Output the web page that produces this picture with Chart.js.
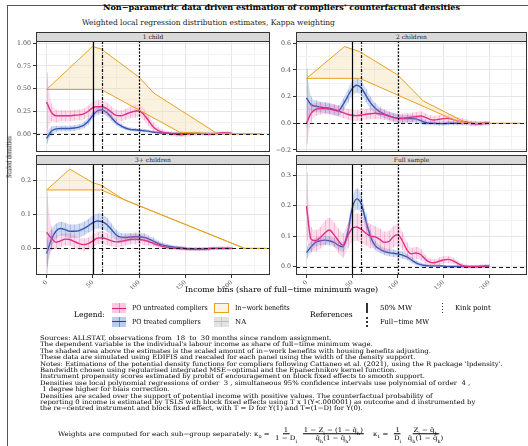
<!DOCTYPE html>
<html><head><meta charset="utf-8">
<script src="https://cdn.jsdelivr.net/npm/chart.js@4/dist/chart.umd.min.js"></script>
<style>
html,body{margin:0;padding:0;width:528px;height:446px;overflow:hidden;background:#fff;font-family:"DejaVu Serif","Liberation Serif",serif;color:#000}
.abs{position:absolute;white-space:nowrap;line-height:1;transform-origin:0 50%}
.strip{position:absolute;background:#D9D9D9;border:1px solid #333;box-sizing:border-box;font-size:6px;color:#1A1A1A;text-align:center;line-height:8px}
canvas{position:absolute}
.frac{display:inline-flex;flex-direction:column;align-items:center;margin:0 2px;vertical-align:middle}
.frac>span{padding:0 1px;line-height:1.15}
.frac>span:first-child{border-bottom:0.7px solid #000}
sub{font-size:70%;line-height:0}
.key{position:absolute;box-sizing:border-box}
</style></head><body>
<div style="position:absolute;left:7px;top:5px;width:530px;height:450px;border-left:1px solid #555;border-top:1px solid #555"></div>
<script>
// ---------------- DATA ----------------
const panelTitles = ["1 child", "2 children", "3+ children", "Full sample"];
const incomeBins = [0,5,10,15,20,25,30,35,40,45,50,55,60,65,70,75,80,85,90,95,100,105,110,115,120,125,130,135,140,145,150,155,160,165,170,175,180,185,190,195,200];
const xTickLabels = [0, 50, 100, 150, 200];
const referenceLines = { fiftyPctMW: 50, kinkPoint: 59.5, fullTimeMW: 100 };

// 1 child
const oneChildUntreated   = [0.35,0.24,0.20,0.20,0.20,0.20,0.205,0.21,0.22,0.25,0.29,0.30,0.30,0.28,0.24,0.205,0.20,0.215,0.235,0.25,0.255,0.215,0.15,0.08,0.04,0.02,0.01,0.0,-0.005,-0.01,-0.005,0.0,0.005,0.005,0.0,-0.005,0.0,0.005,0.01,0.01,0.005];
const oneChildUntreatedCI = [0.33,0.1,0.07,0.06,0.06,0.06,0.06,0.06,0.06,0.065,0.07,0.07,0.07,0.065,0.06,0.06,0.06,0.06,0.065,0.07,0.07,0.065,0.06,0.05,0.04,0.03,0.025,0.025,0.025,0.025,0.025,0.025,0.025,0.02,0.02,0.02,0.02,0.02,0.02,0.02,0.02];
const oneChildTreated     = [-0.05,0.03,0.055,0.06,0.06,0.06,0.065,0.075,0.095,0.14,0.205,0.255,0.265,0.235,0.18,0.125,0.09,0.065,0.05,0.045,0.04,0.035,0.03,0.02,0.015,0.01,0.008,0.005,0.005,0.005,0.005,0.005,0.005,0.005,0.005,0.005,0.005,0.005,0.005,0.005,0.005];
const oneChildTreatedCI   = [0.06,0.05,0.035,0.03,0.03,0.03,0.03,0.03,0.035,0.04,0.04,0.045,0.045,0.04,0.035,0.03,0.025,0.02,0.02,0.02,0.02,0.018,0.015,0.012,0.01,0.008,0.008,0.008,0.008,0.008,0.008,0.008,0.008,0.008,0.008,0.008,0.008,0.008,0.008,0.008,0.008];
const oneChildBenefitsUpperX = [0, 49.5, 59, 100, 116, 185, 232];
const oneChildBenefitsUpperY = [0.49, 0.963, 0.937, 0.625, 0.449, 0.0, 0.0];
const oneChildBenefitsLowerX = [0, 59, 144, 185, 232];
const oneChildBenefitsLowerY = [0.49, 0.49, 0.018, 0.0, 0.0];

// 2 children
const twoChildrenUntreated   = [0.0,0.075,0.105,0.11,0.11,0.107,0.1,0.092,0.08,0.068,0.06,0.058,0.062,0.068,0.072,0.075,0.072,0.065,0.055,0.045,0.038,0.038,0.042,0.045,0.05,0.055,0.045,0.03,0.025,0.03,0.035,0.037,0.03,0.02,0.015,0.01,0.0,-0.003,-0.003,0.0,0.0];
const twoChildrenUntreatedCI = [0.16,0.07,0.05,0.045,0.04,0.04,0.04,0.04,0.04,0.04,0.04,0.04,0.04,0.04,0.04,0.04,0.04,0.04,0.035,0.035,0.035,0.035,0.035,0.035,0.035,0.035,0.03,0.03,0.03,0.03,0.03,0.03,0.03,0.025,0.025,0.02,0.02,0.02,0.015,0.015,0.015];
const twoChildrenTreated     = [0.19,0.14,0.128,0.122,0.118,0.113,0.103,0.095,0.14,0.20,0.26,0.285,0.265,0.21,0.155,0.115,0.088,0.07,0.056,0.045,0.038,0.035,0.035,0.035,0.033,0.02,0.006,0.0,0.0,-0.002,-0.002,0.0,0.0,0.0,0.0,0.0,0.0,-0.002,-0.002,0.0,0.0];
const twoChildrenTreatedCI   = [0.22,0.06,0.045,0.04,0.04,0.04,0.04,0.04,0.045,0.05,0.055,0.055,0.055,0.05,0.045,0.04,0.035,0.03,0.03,0.03,0.03,0.028,0.028,0.028,0.028,0.025,0.02,0.015,0.015,0.015,0.015,0.015,0.015,0.015,0.015,0.015,0.015,0.015,0.015,0.015,0.015];
const twoChildrenBenefitsUpperX = [0, 41.7, 58.4, 100, 128, 176, 235];
const twoChildrenBenefitsUpperY = [0.337, 0.575, 0.537, 0.362, 0.167, 0.0, 0.0];
const twoChildrenBenefitsLowerX = [0, 58.4, 170, 235];
const twoChildrenBenefitsLowerY = [0.337, 0.337, 0.0, 0.0];

// 3+ children
const threeChildrenUntreated   = [0.047,0.03,0.018,0.022,0.027,0.026,0.02,0.014,0.011,0.014,0.022,0.03,0.031,0.027,0.022,0.019,0.02,0.023,0.026,0.027,0.026,0.024,0.02,0.015,0.01,0.006,0.003,0.001,0.0,-0.001,-0.002,-0.003,-0.003,-0.003,-0.002,-0.001,0.0,0.0,0.0,0.0,0.0];
const threeChildrenUntreatedCI = [0.12,0.035,0.02,0.018,0.018,0.018,0.018,0.018,0.018,0.018,0.018,0.018,0.018,0.018,0.016,0.015,0.015,0.015,0.015,0.015,0.015,0.014,0.012,0.01,0.008,0.007,0.006,0.006,0.005,0.005,0.005,0.005,0.005,0.005,0.005,0.005,0.005,0.005,0.005,0.005,0.005];
const threeChildrenTreated     = [-0.015,0.025,0.05,0.058,0.055,0.05,0.05,0.052,0.058,0.066,0.075,0.08,0.078,0.07,0.055,0.04,0.033,0.032,0.033,0.034,0.034,0.032,0.028,0.022,0.015,0.01,0.007,0.005,0.003,0.002,0.0,-0.001,-0.002,-0.002,-0.002,-0.001,0.0,0.0,0.0,0.0,0.0];
const threeChildrenTreatedCI   = [0.04,0.03,0.022,0.02,0.02,0.02,0.02,0.02,0.02,0.02,0.022,0.022,0.022,0.02,0.018,0.015,0.012,0.012,0.012,0.012,0.012,0.012,0.01,0.01,0.008,0.007,0.006,0.005,0.005,0.005,0.005,0.005,0.005,0.005,0.005,0.005,0.005,0.005,0.005,0.005,0.005];
const threeChildrenBenefitsUpperX = [0, 25, 50, 59, 82.6, 100.6, 214, 238];
const threeChildrenBenefitsUpperY = [0.171, 0.232, 0.192, 0.185, 0.144, 0.124, 0.0, 0.0];
const threeChildrenBenefitsLowerX = [0, 59, 82.6, 100.6, 214, 238];
const threeChildrenBenefitsLowerY = [0.171, 0.171, 0.144, 0.124, 0.0, 0.0];

// Full sample
const fullUntreated   = [0.198,0.09,0.085,0.095,0.11,0.12,0.105,0.085,0.07,0.1,0.125,0.13,0.122,0.11,0.1,0.098,0.09,0.08,0.082,0.098,0.105,0.085,0.055,0.042,0.045,0.04,0.025,0.015,0.013,0.018,0.022,0.024,0.02,0.012,0.004,0.001,0.0,0.0,0.001,0.003,0.003];
const fullUntreatedCI = [0.11,0.04,0.035,0.035,0.04,0.04,0.04,0.04,0.04,0.04,0.045,0.045,0.045,0.04,0.04,0.035,0.035,0.035,0.035,0.035,0.035,0.03,0.025,0.02,0.02,0.018,0.015,0.012,0.012,0.012,0.012,0.012,0.01,0.008,0.008,0.006,0.006,0.006,0.006,0.006,0.006];
const fullTreated     = [0.046,0.065,0.08,0.085,0.087,0.085,0.08,0.07,0.065,0.11,0.19,0.222,0.205,0.15,0.1,0.07,0.058,0.05,0.046,0.044,0.042,0.038,0.032,0.022,0.013,0.007,0.004,0.003,0.003,0.003,0.002,0.001,0.001,0.001,0.001,0.001,0.001,0.001,0.001,0.001,0.001];
const fullTreatedCI   = [0.02,0.018,0.015,0.015,0.015,0.015,0.015,0.015,0.015,0.025,0.03,0.035,0.03,0.025,0.02,0.015,0.012,0.012,0.012,0.012,0.012,0.012,0.01,0.01,0.008,0.006,0.005,0.004,0.004,0.004,0.004,0.004,0.004,0.004,0.004,0.004,0.004,0.004,0.004,0.004,0.004];

// y-axis ticks per panel
const oneChildYMajor = [0, 0.25, 0.5, 0.75, 1.0];
const oneChildYMinor = [-0.125, 0.125, 0.375, 0.625, 0.875];
const twoChildrenYMajor = [-0.2, 0, 0.2, 0.4, 0.6];
const twoChildrenYMinor = [-0.1, 0.1, 0.3, 0.5];
const threeChildrenYMajor = [0, 0.1, 0.2];
const threeChildrenYMinor = [-0.05, 0.05, 0.15];
const fullYMajor = [0, 0.1, 0.2, 0.3];
const fullYMinor = [0.05, 0.15, 0.25];

// ---------------- STYLE ----------------
const PINK = '#DD1C77', PINK_BAND = 'rgba(236,100,170,0.22)', PINK_HATCH = 'rgba(236,100,170,0.30)';
const BLUE = '#2340A6', BLUE_BAND = 'rgba(90,125,210,0.28)', BLUE_HATCH = 'rgba(90,125,210,0.30)';
const ORANGE = '#E8A020', ORANGE_FILL = 'rgba(246,222,178,0.42)';
const FONT = '"DejaVu Serif","Liberation Serif",serif';
Chart.defaults.font.family = FONT;

const panels = [
  { title: panelTitles[0], area: [36, 41, 270, 152], ymin: -0.2, ymax: 1.025, major: oneChildYMajor, minor: oneChildYMinor, dec: 2, bottom: false,
    untreated: oneChildUntreated, untreatedCI: oneChildUntreatedCI, treated: oneChildTreated, treatedCI: oneChildTreatedCI,
    benefits: { ux: oneChildBenefitsUpperX, uy: oneChildBenefitsUpperY, lx: oneChildBenefitsLowerX, ly: oneChildBenefitsLowerY } },
  { title: panelTitles[1], area: [296, 41, 527, 152], ymin: -0.215, ymax: 0.617, major: twoChildrenYMajor, minor: twoChildrenYMinor, dec: 1, bottom: false,
    untreated: twoChildrenUntreated, untreatedCI: twoChildrenUntreatedCI, treated: twoChildrenTreated, treatedCI: twoChildrenTreatedCI,
    benefits: { ux: twoChildrenBenefitsUpperX, uy: twoChildrenBenefitsUpperY, lx: twoChildrenBenefitsLowerX, ly: twoChildrenBenefitsLowerY } },
  { title: panelTitles[2], area: [36, 164, 270, 275], ymin: -0.078, ymax: 0.247, major: threeChildrenYMajor, minor: threeChildrenYMinor, dec: 1, bottom: true,
    untreated: threeChildrenUntreated, untreatedCI: threeChildrenUntreatedCI, treated: threeChildrenTreated, treatedCI: threeChildrenTreatedCI,
    benefits: { ux: threeChildrenBenefitsUpperX, uy: threeChildrenBenefitsUpperY, lx: threeChildrenBenefitsLowerX, ly: threeChildrenBenefitsLowerY } },
  { title: panelTitles[3], area: [296, 164, 527, 275], ymin: -0.027, ymax: 0.336, major: fullYMajor, minor: fullYMinor, dec: 1, bottom: true,
    untreated: fullUntreated, untreatedCI: fullUntreatedCI, treated: fullTreated, treatedCI: fullTreatedCI, benefits: null }
];

const pts = (xs, ys) => xs.map((x, i) => ({ x: x, y: ys[i] }));
const shift = (c, hw, s) => c.map((v, i) => v + s * hw[i]);
const fmt = (v, d) => (v < 0 ? '\u2212' : '') + Math.abs(v).toFixed(d);

const panelPlugin = {
  id: 'panelDeco',
  afterDatasetDraw(chart, args) {
    const ds = chart.data.datasets[args.index];
    if (!ds.hatch) return;
    const ctx = chart.ctx, xs = chart.scales.x, ys = chart.scales.y, a = chart.chartArea;
    ctx.save();
    ctx.beginPath(); ctx.rect(a.left, a.top, a.right - a.left, a.bottom - a.top); ctx.clip();
    ctx.strokeStyle = ds.hatch.color; ctx.lineWidth = 1;
    ds.hatch.x.forEach((x, i) => {
      const px = Math.round(xs.getPixelForValue(x)) + 0.5;
      ctx.beginPath();
      ctx.moveTo(px, ys.getPixelForValue(ds.hatch.lo[i]));
      ctx.lineTo(px, ys.getPixelForValue(ds.hatch.hi[i]));
      ctx.stroke();
    });
    ctx.restore();
  },
  afterDatasetsDraw(chart) {
    const ctx = chart.ctx, xs = chart.scales.x, ys = chart.scales.y, a = chart.chartArea;
    ctx.save();
    ctx.beginPath(); ctx.rect(a.left, a.top, a.right - a.left, a.bottom - a.top); ctx.clip();
    const y0 = Math.round(ys.getPixelForValue(0)) + 0.5;
    ctx.strokeStyle = '#1a1a1a'; ctx.lineWidth = 1;
    ctx.setLineDash([4, 3]);
    ctx.beginPath(); ctx.moveTo(a.left, y0); ctx.lineTo(a.right, y0); ctx.stroke();
    const vline = (v, dash, w) => {
      const px = Math.round(xs.getPixelForValue(v)) + 0.5;
      ctx.setLineDash(dash); ctx.lineWidth = w;
      ctx.beginPath(); ctx.moveTo(px, a.top); ctx.lineTo(px, a.bottom); ctx.stroke();
    };
    ctx.strokeStyle = '#000';
    vline(referenceLines.fiftyPctMW, [], 1.2);
    vline(referenceLines.kinkPoint, [3, 1.5, 1, 1.5], 1.2);
    vline(referenceLines.fullTimeMW, [2, 1.5], 1.2);
    ctx.restore();
    ctx.save();
    ctx.strokeStyle = '#333'; ctx.lineWidth = 1; ctx.setLineDash([]);
    ctx.strokeRect(a.left + 0.5, a.top + 0.5, a.right - a.left - 1, a.bottom - a.top - 1);
    ctx.restore();
  }
};

const charts = [];
function makePanel(p) {
  const M = 8, yW = 30, xH = p.bottom ? 14 : 0;
  const [l, t, r, b] = p.area;
  const W = (r - l) + yW + 2 * M, H = (b - t) + xH + 2 * M;
  const strip = document.createElement('div');
  strip.className = 'strip';
  strip.style.left = l + 'px'; strip.style.top = (t - 9) + 'px';
  strip.style.width = (r - l) + 'px'; strip.style.height = '10px';
  strip.textContent = p.title;
  document.body.appendChild(strip);
  const cv = document.createElement('canvas');
  cv.width = W; cv.height = H;
  cv.style.left = (l - yW - M) + 'px'; cv.style.top = (t - M) + 'px';
  cv.style.width = W + 'px'; cv.style.height = H + 'px';
  document.body.appendChild(cv);

  const ds = [];
  if (p.benefits) {
    ds.push({ data: pts(p.benefits.lx, p.benefits.ly), borderColor: ORANGE, borderWidth: 1, fill: false, tension: 0 });
    ds.push({ data: pts(p.benefits.ux, p.benefits.uy), borderColor: ORANGE, borderWidth: 1, fill: '-1', backgroundColor: ORANGE_FILL, tension: 0 });
  }
  const addSeries = (c, hw, line, band, hatch) => {
    const lo = shift(c, hw, -1), hi = shift(c, hw, 1);
    ds.push({ data: pts(incomeBins, lo), borderWidth: 0, borderColor: 'rgba(0,0,0,0)', fill: false, cubicInterpolationMode: 'monotone' });
    ds.push({ data: pts(incomeBins, hi), borderWidth: 0, borderColor: 'rgba(0,0,0,0)', fill: '-1', backgroundColor: band, cubicInterpolationMode: 'monotone',
              hatch: { x: incomeBins, lo: lo, hi: hi, color: hatch } });
    ds.push({ data: pts(incomeBins, c), borderColor: line, borderWidth: 1.4, fill: false, cubicInterpolationMode: 'monotone' });
  };
  addSeries(p.untreated, p.untreatedCI, PINK, PINK_BAND, PINK_HATCH);
  addSeries(p.treated, p.treatedCI, BLUE, BLUE_BAND, BLUE_HATCH);

  const xTicks = [];
  for (let v = 0; v <= 225; v += 25) xTicks.push({ value: v, m: xTickLabels.includes(v) });
  const yTicks = p.major.map(v => ({ value: v, m: true })).concat(p.minor.map(v => ({ value: v, m: false }))).sort((a, b) => a.value - b.value);

  charts.push(new Chart(cv, {
    type: 'line',
    data: { datasets: ds },
    plugins: [panelPlugin],
    options: {
      responsive: false, animation: false, devicePixelRatio: 1,
      layout: { padding: M },
      elements: { point: { radius: 0, hoverRadius: 0 } },
      plugins: { legend: { display: false }, tooltip: { enabled: false } },
      scales: {
        x: {
          type: 'linear', min: -11.5, max: 241.5,
          afterBuildTicks: s => { s.ticks = xTicks.map(o => ({ value: o.value, m: o.m })); },
          afterFit: s => { s.height = xH; },
          border: { display: false },
          grid: { color: c => (c.tick && c.tick.m) ? '#E6E6E6' : '#F2F2F2', lineWidth: 1, drawTicks: p.bottom, tickLength: 3,
                  tickColor: c => (c.tick && c.tick.m) ? '#333' : 'rgba(0,0,0,0)' },
          ticks: { display: p.bottom, autoSkip: false, minRotation: 45, maxRotation: 45, padding: 1,
                   font: { size: 6, family: FONT }, color: '#4D4D4D',
                   callback: (v, i, t) => t[i].m ? String(v) : '' }
        },
        y: {
          type: 'linear', min: p.ymin, max: p.ymax,
          afterBuildTicks: s => { s.ticks = yTicks.map(o => ({ value: o.value, m: o.m })); },
          afterFit: s => { s.width = yW; },
          border: { display: false },
          grid: { color: c => (c.tick && c.tick.m) ? '#E6E6E6' : '#F2F2F2', lineWidth: 1, drawTicks: true, tickLength: 3,
                  tickColor: c => (c.tick && c.tick.m) ? '#333' : 'rgba(0,0,0,0)' },
          ticks: { autoSkip: false, padding: 2, font: { size: 6.3, family: FONT }, color: '#4D4D4D',
                   callback: (v, i, t) => t[i].m ? fmt(v, p.dec) : '' }
        }
      }
    }
  }));
}
panels.forEach(makePanel);

// ---------------- TEXT ----------------
// Each text gets a font size (its height) and is stretched horizontally to its measured width in the reference.
const fitList = [];
function txt(s, x, yc, size, opts) {
  opts = opts || {};
  const d = document.createElement('div');
  d.className = 'abs';
  d.innerHTML = s;
  d.style.left = x + 'px'; d.style.top = yc + 'px';
  d.style.fontSize = size + 'px';
  d.style.transform = 'translateY(-50%)';
  if (opts.bold) d.style.fontWeight = 'bold';
  if (opts.color) d.style.color = opts.color;
  document.body.appendChild(d);
  fitList.push({ el: d, target: opts.fit, pre: 'translateY(-50%)', post: '' });
  return d;
}
function fitAll() {
  fitList.forEach(f => {
    const src = f.ref || f.el;
    const w = src.offsetWidth;
    if (f.target && w > 0) f.el.style.transform = f.pre + ' scaleX(' + (f.target / w) + ') ' + f.post;
  });
}
txt("Non\u2212parametric data driven estimation of compliers' counterfactual densities", 103, 7.5, 7.8, { bold: true, fit: 357 });
txt("Weighted local regression distribution estimates, Kappa weighting", 82, 23, 7.5, { fit: 253, color: '#222' });
txt("Income bins (share of full\u2212time minimum wage)", 185, 290, 7.5, { fit: 193 });
const ytEl = txt("Scaled densities", 10, 157, 7, { fit: 42 });
ytEl.style.transformOrigin = '0 0';
const ytFit = fitList.find(o => o.el === ytEl);
ytFit.pre = 'rotate(-90deg)'; ytFit.post = 'translate(-50%,-50%)';

// legend
txt("Legend:", 74, 315, 7.5, { fit: 31 });
txt("PO untreated compliers", 132, 308, 7, { fit: 76 });
txt("PO treated compliers", 132, 321.5, 7, { fit: 69 });
txt("In\u2212work benefits", 235, 308, 7, { fit: 55 });
txt("NA", 235, 321.5, 7, { fit: 11 });
txt("References", 310, 315, 7.5, { fit: 43 });
txt("50% MW", 380, 308, 7, { fit: 32 });
txt("Kink point", 455, 308, 7, { fit: 36 });
txt("Full\u2212time MW", 380, 321.5, 7, { fit: 49 });

function key(x, y, w, h, bg, border) {
  const k = document.createElement('div');
  k.className = 'key';
  k.style.left = x + 'px'; k.style.top = y + 'px'; k.style.width = w + 'px'; k.style.height = h + 'px';
  k.style.background = bg; if (border) k.style.border = border;
  document.body.appendChild(k); return k;
}
function cross(x, y, w, h, lineC, vC) {
  key(x + w / 2 - 0.5, y, 1, h, vC);
  key(x, y + h / 2 - 0.5, w, 1, lineC);
}
key(112, 303, 14, 10, 'rgba(236,100,170,0.35)'); cross(112, 303, 14, 10, PINK, 'rgba(236,100,170,0.7)');
key(112, 316.5, 14, 10, 'rgba(90,125,210,0.4)'); cross(112, 316.5, 14, 10, BLUE, 'rgba(90,125,210,0.8)');
key(214, 303, 15, 10, '#FDF4E3', '1px solid ' + ORANGE);
key(214, 316.5, 15, 10, '#E3E3E3'); cross(214, 316.5, 15, 10, '#BBBBBB', '#C8C8C8');
key(366, 303, 2, 10, '#333');
key(441.5, 303, 1.5, 10, 'repeating-linear-gradient(to bottom,#333 0 1.5px,transparent 1.5px 3px)');
key(366, 316.5, 1.5, 10, 'repeating-linear-gradient(to bottom,#333 0 2px,transparent 2px 4px)');

// notes
const noteLines = [
  "Sources: ALLSTAT, observations from &nbsp;18 &nbsp;to &nbsp;30 months since random assignment.",
  "The dependent variable is the individual's labour income as share of full\u2212time minimum wage.",
  "The shaded area above the estimates is the scaled amount of in\u2212work benefits with housing benefits adjusting.",
  "These data are simulated using EDIFIS and rescaled for each panel using the width of the density support.",
  "Notes: Estimations of the potential density functions for compliers following Cattaneo et al. (2021), using the R package 'lpdensity'.",
  "Bandwidth chosen using regularised integrated MSE\u2212optimal and the Epanechnikov kernel function.",
  "Instrument propensity scores estimated by probit of encouragement on block fixed effects to smooth support.",
  "Densities use local polynomial regressions of order &nbsp;3 , simultaneous 95% confidence intervals use polynomial of order &nbsp;4 ,",
  "&nbsp;1 degree higher for biais correction.",
  "Densities are scaled over the support of potential income with positive values. The counterfactual probability of",
  "reporting 0 income is estimated by TSLS with block fixed effects using T x 1(Y&lt;.000001) as outcome and d instrumented by",
  "the re\u2212centred instrument and block fixed effect, with T = D for Y(1) and T=(1\u2212D) for Y(0)."
];
const noteEls = noteLines.map((s, i) => txt(s, 40, 338 + i * 6.4, 6.3, {}));
noteEls.forEach(e => { const f = fitList.find(o => o.el === e); f.target = 463; f.ref = noteEls[4]; });

const wHtml = 'Weights are computed for each sub\u2212group separately: &kappa;<sub>0</sub> = ' +
  '<span class="frac"><span>1</span><span>1 \u2212 D<sub>i</sub></span></span>' +
  '<span class="frac"><span>1 \u2212 Z<sub>i</sub> \u2212 (1 \u2212 q\u0302<sub>h</sub>)</span><span>q\u0302<sub>h</sub>(1 \u2212 q\u0302<sub>h</sub>)</span></span>' +
  '&nbsp;&nbsp;&nbsp;&kappa;<sub>1</sub> = ' +
  '<span class="frac"><span>1</span><span>D<sub>i</sub></span></span>' +
  '<span class="frac"><span>Z<sub>i</sub> \u2212 q\u0302<sub>h</sub></span><span>q\u0302<sub>h</sub>(1 \u2212 q\u0302<sub>h</sub>)</span></span>';
txt(wHtml, 58, 434, 6.3, { fit: 389 });

fitAll();
if (document.fonts && document.fonts.ready) {
  document.fonts.ready.then(() => { fitAll(); charts.forEach(c => c.update('none')); });
}
setTimeout(fitAll, 50);
</script>
</body></html>
